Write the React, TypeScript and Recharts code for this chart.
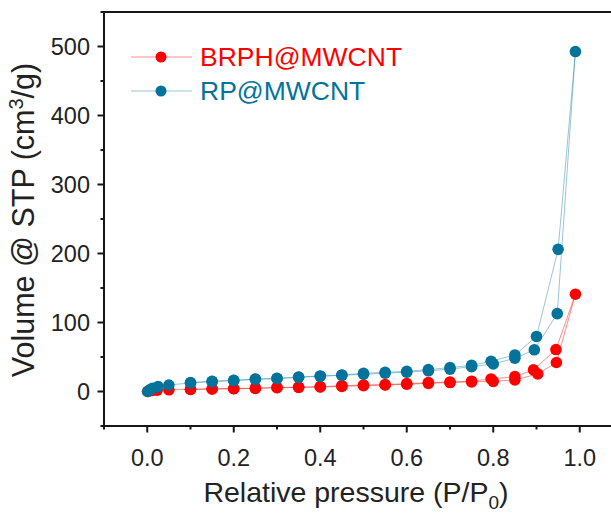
import { ScatterChart, Scatter, XAxis, YAxis, ReferenceLine, Legend } from "recharts";

// BRPH@MWCNT isotherm (adsorption then desorption branch)
const brphAdsP = [0.001, 0.005, 0.012, 0.023, 0.05, 0.1, 0.15, 0.2, 0.25, 0.3, 0.35, 0.4, 0.45, 0.5, 0.55, 0.6, 0.65, 0.7, 0.75, 0.8, 0.85, 0.903, 0.946, 0.99];
const brphAdsV = [0, 1, 1.5, 2, 2.5, 3, 3.6, 4, 4.5, 5.5, 6, 6.5, 7.4, 8.5, 9.4, 10.5, 11.8, 13, 14, 14.7, 16.7, 25.5, 42, 141];
const brphDesP = [0.945, 0.893, 0.85, 0.795, 0.75, 0.7, 0.65, 0.6, 0.55, 0.5, 0.45, 0.4, 0.35, 0.3, 0.25, 0.2, 0.15, 0.1];
const brphDesV = [60.8, 31.3, 21.5, 18.2, 14.9, 13.8, 12.8, 11.4, 9.9, 9.4, 8.4, 7, 6.3, 5.8, 4.8, 4.3, 3.8, 3.3];

// RP@MWCNT isotherm
const rpAdsP = [0.001, 0.005, 0.012, 0.025, 0.05, 0.1, 0.15, 0.2, 0.25, 0.3, 0.35, 0.4, 0.45, 0.5, 0.55, 0.6, 0.65, 0.7, 0.75, 0.8, 0.85, 0.895, 0.948, 0.99];
const rpAdsV = [0, 2, 4.5, 7, 9.4, 12.4, 14.3, 15.7, 17.6, 18.6, 20.5, 22, 23.4, 25, 26.5, 28, 30, 32.5, 36, 40, 48.2, 60.4, 112.8, 492.7];
const rpDesP = [0.95, 0.9, 0.85, 0.795, 0.75, 0.7, 0.65, 0.6, 0.55, 0.5, 0.45, 0.4, 0.35, 0.3, 0.25, 0.2, 0.15, 0.1];
const rpDesV = [206, 79.8, 53, 43.8, 38, 34.6, 31.7, 29.3, 27.8, 26.3, 24, 22.5, 21, 19.2, 18, 16.3, 14.8, 13];

const X_TICKS = [-0.1, 0, 0.1, 0.2, 0.3, 0.4, 0.5, 0.6, 0.7, 0.8, 0.9, 1.0, 1.1];
const Y_TICKS = [-50, 0, 50, 100, 150, 200, 250, 300, 350, 400, 450, 500, 550];

const SERIES = [
  { name: "BRPH@MWCNT", color: "#ff0000", line: "#ff0000" },
  { name: "RP@MWCNT", color: "#03739b", line: "#1b7fa6" },
];

const FONT = "'Liberation Sans', Arial, sans-serif";
const AXIS = "#161616";

const toPoints = (p: number[], v: number[]) => p.map((x, i) => ({ p: x, v: v[i] }));
const brphData = [...toPoints(brphAdsP, brphAdsV), ...toPoints(brphDesP, brphDesV)];
const rpData = [...toPoints(rpAdsP, rpAdsV), ...toPoints(rpDesP, rpDesV)];

function XTick(props: any) {
  const { x, y, payload } = props;
  const v = Math.round(payload.value * 10);
  const major = v % 2 === 0;
  return (
    <g>
      <line x1={x} x2={x} y1={y} y2={y + (major ? 6.5 : 3.5)} stroke={AXIS} strokeWidth={2} />
      {major && (
        <text x={x} y={y + 40} textAnchor="middle" fontSize={23.5} fill="#222" fontFamily={FONT}>
          {(v / 10).toFixed(1)}
        </text>
      )}
    </g>
  );
}

function YTick(props: any) {
  const { x, y, payload } = props;
  const major = payload.value % 100 === 0;
  return (
    <g>
      <line x1={x} x2={x - (major ? 6.5 : 3.5)} y1={y} y2={y} stroke={AXIS} strokeWidth={2} />
      {major && (
        <text x={x - 14} y={y + 8} textAnchor="end" fontSize={23.5} fill="#222" fontFamily={FONT}>
          {payload.value}
        </text>
      )}
    </g>
  );
}

function XTitle() {
  return (
    <text x={356} y={502} textAnchor="middle" fontSize={28.5} fill="#222" fontFamily={FONT}>
      Relative pressure (P/P
      <tspan dy={7} fontSize={19}>0</tspan>
      <tspan dy={-7}>)</tspan>
    </text>
  );
}

function YTitle() {
  return (
    <text
      transform="translate(34,220) rotate(-90)"
      textAnchor="middle"
      fontSize={30.5}
      fill="#222"
      fontFamily={FONT}
    >
      Volume @ STP (cm
      <tspan dy={-11} fontSize={20}>3</tspan>
      <tspan dy={11}>/g)</tspan>
    </text>
  );
}

function LegendBox() {
  return (
    <div style={{ fontFamily: FONT }}>
      {SERIES.map((s) => (
        <div key={s.name} style={{ display: "flex", alignItems: "center", height: 34 }}>
          <svg width={61} height={20}>
            <line x1={0} x2={61} y1={10} y2={10} stroke={s.line} strokeOpacity={0.45} strokeWidth={1} />
            <circle cx={30} cy={10} r={5.5} fill={s.color} />
          </svg>
          <span style={{ marginLeft: 8, fontSize: 26.5, color: s.color, lineHeight: "34px" }}>{s.name}</span>
        </div>
      ))}
    </div>
  );
}

const dot = (color: string) => (props: any) =>
  <circle cx={props.cx} cy={props.cy} r={5.8} fill={color} />;

export default function App() {
  return (
    <div style={{ position: "absolute", left: 0, top: 0, width: 611, height: 513, overflow: "hidden", background: "#fff" }}>
      <ScatterChart width={645} height={513} margin={{ top: 12, right: 22, left: 44, bottom: 47 }}>
        <XAxis
          type="number"
          dataKey="p"
          domain={[-0.1, 1.1]}
          ticks={X_TICKS}
          interval={0}
          allowDataOverflow
          height={40}
          tickSize={0}
          tickMargin={0}
          tickLine={false}
          tick={<XTick />}
          axisLine={{ stroke: AXIS, strokeWidth: 2 }}
          label={<XTitle />}
        />
        <YAxis
          type="number"
          dataKey="v"
          domain={[-50, 550]}
          ticks={Y_TICKS}
          interval={0}
          allowDataOverflow
          width={60}
          tickSize={0}
          tickMargin={0}
          tickLine={false}
          tick={<YTick />}
          axisLine={{ stroke: AXIS, strokeWidth: 2 }}
          label={<YTitle />}
        />
        <ReferenceLine y={550} stroke={AXIS} strokeWidth={2} />
        <Legend
          layout="vertical"
          align="center"
          verticalAlign="middle"
          content={() => <LegendBox />}
          wrapperStyle={{ top: 40, left: 131, width: 300, height: 70 }}
        />
        <Scatter
          name={SERIES[0].name}
          data={brphData}
          fill={SERIES[0].color}
          line={{ stroke: SERIES[0].line, strokeOpacity: 0.45, strokeWidth: 1 }}
          lineType="joint"
          shape={dot(SERIES[0].color)}
          isAnimationActive={false}
        />
        <Scatter
          name={SERIES[1].name}
          data={rpData}
          fill={SERIES[1].color}
          line={{ stroke: SERIES[1].line, strokeOpacity: 0.45, strokeWidth: 1 }}
          lineType="joint"
          shape={dot(SERIES[1].color)}
          isAnimationActive={false}
        />
      </ScatterChart>
    </div>
  );
}
